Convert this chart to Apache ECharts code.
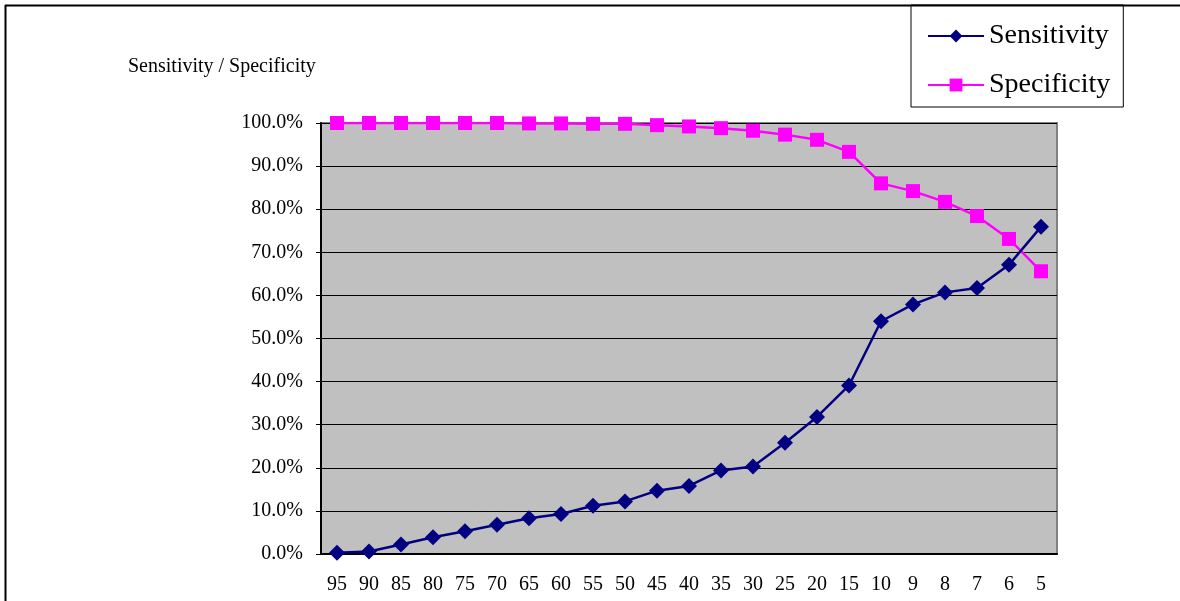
<!DOCTYPE html>
<html>
<head>
<meta charset="utf-8">
<script src="https://cdn.jsdelivr.net/npm/echarts@6/dist/echarts.min.js"></script>
<style>html,body{margin:0;padding:0;background:#fff}#c{width:1180px;height:601px}</style>
</head>
<body>
<div id="c"></div>
<script>
const categories = ['95','90','85','80','75','70','65','60','55','50','45','40','35','30','25','20','15','10','9','8','7','6','5'];
const sensitivity = [0.3,0.6,2.2,3.9,5.3,6.8,8.3,9.3,11.2,12.2,14.7,15.8,19.4,20.3,25.8,31.8,39.1,54.0,57.9,60.7,61.7,67.1,75.9];
const specificity = [100.0,100.0,100.0,100.0,100.0,100.0,99.9,99.9,99.8,99.8,99.5,99.2,98.8,98.2,97.3,96.1,93.3,86.0,84.2,81.7,78.4,73.1,65.6];
const yTicks = [0,10,20,30,40,50,60,70,80,90,100];

const font = '"Liberation Serif", "DejaVu Serif", serif';
const chart = echarts.init(document.getElementById('c'), null, {renderer: 'canvas'});
chart.setOption({
  animation: false,
  backgroundColor: '#ffffff',
  title: {
    text: 'Sensitivity / Specificity',
    left: 123, top: 52,
    textStyle: {fontFamily: font, fontSize: 20, fontWeight: 'normal', color: '#000'}
  },
  legend: {
    orient: 'vertical',
    left: 911, top: 5,
    padding: [17, 13, 8, 16],
    itemGap: 21,
    itemWidth: 56, itemHeight: 16,
    borderColor: '#000', borderWidth: 1,
    textStyle: {fontFamily: font, fontSize: 28, color: '#000'},
    data: ['Sensitivity', 'Specificity']
  },
  graphic: [
    {type: 'line', shape: {x1: 5, y1: 5.5, x2: 1180, y2: 5.5}, style: {stroke: '#000', lineWidth: 2}, z: 10},
    {type: 'line', shape: {x1: 5.5, y1: 5, x2: 5.5, y2: 601}, style: {stroke: '#000', lineWidth: 2}, z: 10}
  ],
  grid: {
    left: 321, right: 123, top: 123, bottom: 47,
    show: true, backgroundColor: '#C0C0C0', borderColor: '#808080', borderWidth: 2
  },
  xAxis: {
    type: 'category',
    data: categories,
    boundaryGap: true,
    axisLine: {lineStyle: {color: '#000', width: 2}},
    axisTick: {inside: true, length: 6, lineStyle: {color: '#000'}},
    axisLabel: {fontFamily: font, fontSize: 20, color: '#000', margin: 21, interval: 0}
  },
  yAxis: {
    type: 'value',
    min: yTicks[0], max: yTicks[yTicks.length - 1], interval: 10,
    axisLine: {show: true, lineStyle: {color: '#000', width: 2}},
    axisTick: {show: true, length: 5, lineStyle: {color: '#000'}},
    splitLine: {lineStyle: {color: '#000', width: 1}},
    axisLabel: {fontFamily: font, fontSize: 20, color: '#000', margin: 18, padding: [5, 0, 0, 0],
      formatter: v => v.toFixed(1) + '%'}
  },
  series: [
    {
      name: 'Sensitivity', type: 'line', data: sensitivity,
      symbol: 'diamond', symbolSize: 16,
      lineStyle: {color: '#000080', width: 2.5},
      itemStyle: {color: '#000080'},
      z: 3
    },
    {
      name: 'Specificity', type: 'line', data: specificity,
      symbol: 'rect', symbolSize: 14,
      lineStyle: {color: '#FF00FF', width: 2.5},
      itemStyle: {color: '#FF00FF'},
      z: 2
    }
  ]
});
</script>
</body>
</html>
